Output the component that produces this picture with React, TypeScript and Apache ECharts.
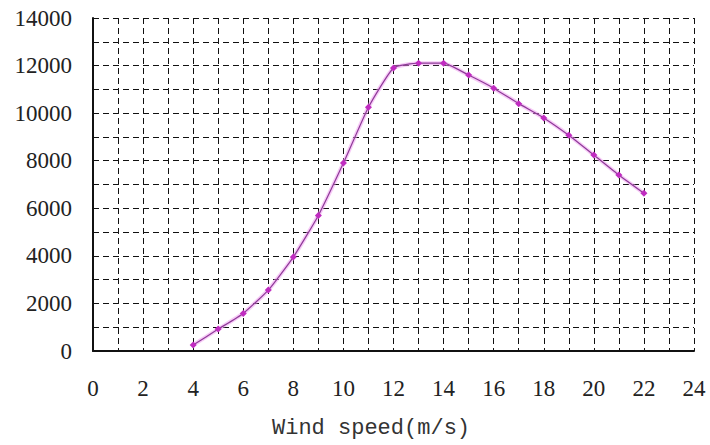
import React, { useEffect, useRef } from "react";
import * as echarts from "echarts";

const windSpeeds = [4, 5, 6, 7, 8, 9, 10, 11, 12, 13, 14, 15, 16, 17, 18, 19, 20, 21, 22];
const power = [250, 920, 1580, 2560, 3950, 5700, 7900, 10250, 11900, 12100, 12100, 11600, 11050, 10400, 9800, 9070, 8240, 7400, 6630];
const xTitle = "Wind speed(m/s)";

export default function App() {
  const ref = useRef<HTMLDivElement>(null);
  useEffect(() => {
    document.body.style.margin = "0";
    if (!ref.current) return;
    const chart = echarts.init(ref.current, null, { renderer: "svg" });
    const data = windSpeeds.map((x, i) => [x, power[i]]);
    const dash = [6, 4];
    const labelFont = "'Liberation Serif', 'DejaVu Serif', serif";
    chart.setOption({
      animation: false,
      backgroundColor: "#ffffff",
      grid: { left: 93, right: 16, top: 18, bottom: 94, containLabel: false },
      xAxis: {
        type: "value",
        min: 0,
        max: 24,
        interval: 2,
        axisLine: { show: true, onZero: false, lineStyle: { color: "#111", width: 2 } },
        axisTick: { show: false },
        minorTick: { show: false, splitNumber: 2 },
        splitLine: { show: true, lineStyle: { color: "#111", type: dash, width: 1 } },
        minorSplitLine: { show: true, lineStyle: { color: "#111", type: dash, width: 1 } },
        axisLabel: {
          margin: 26,
          color: "#222",
          fontFamily: labelFont,
          fontSize: 23,
          formatter: (v: number) => String(v),
        },
      },
      yAxis: {
        type: "value",
        min: 0,
        max: 14000,
        interval: 2000,
        axisLine: { show: true, lineStyle: { color: "#111", width: 2 } },
        axisTick: { show: false },
        minorTick: { show: false, splitNumber: 2 },
        splitLine: { show: true, lineStyle: { color: "#111", type: dash, width: 1 } },
        minorSplitLine: { show: true, lineStyle: { color: "#111", type: dash, width: 1 } },
        axisLabel: {
          margin: 21,
          color: "#222",
          fontFamily: labelFont,
          fontSize: 23,
          formatter: (v: number) => String(v),
        },
      },
      graphic: [
        {
          type: "text",
          left: 272,
          top: 417,
          style: {
            text: xTitle,
            fill: "#333",
            font: "22px 'Liberation Mono', monospace",
          },
        },
      ],
      series: [
        {
          type: "line",
          data,
          smooth: 0.15,
          symbol: "none",
          lineStyle: { color: "rgba(240,150,240,0.5)", width: 4 },
          silent: true,
          z: 2,
        },
        {
          type: "line",
          data,
          smooth: 0.15,
          symbol: "diamond",
          symbolSize: 7,
          itemStyle: { color: "#c02cc0" },
          lineStyle: { color: "#8e3a98", width: 1.2 },
          z: 3,
        },
      ],
    });
    return () => chart.dispose();
  }, []);
  return <div ref={ref} style={{ width: 710, height: 445 }} />;
}
